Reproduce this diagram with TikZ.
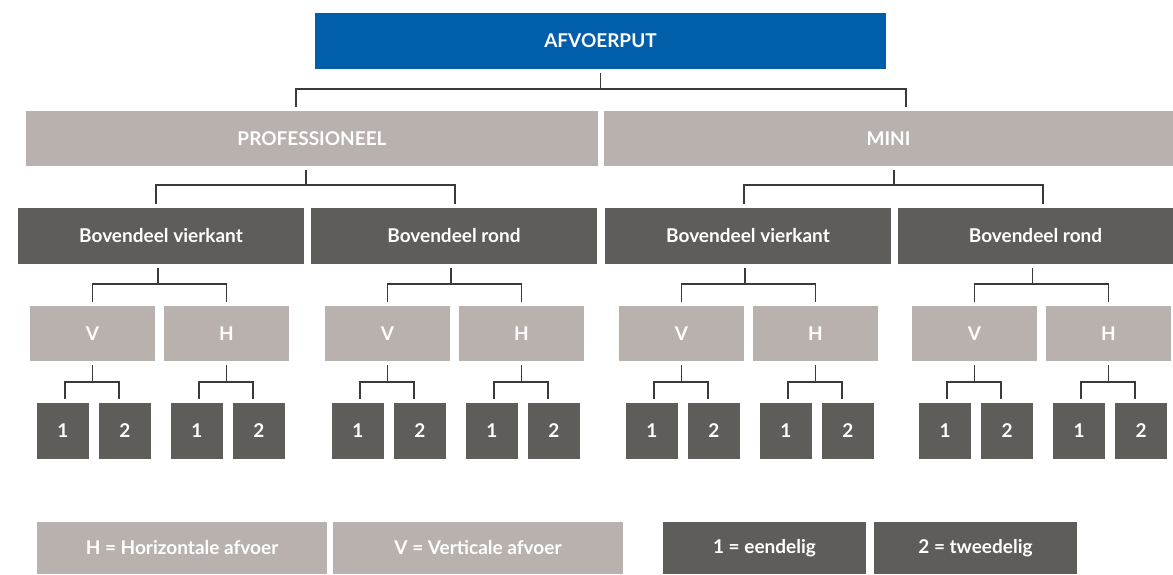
\documentclass[tikz,border=0pt]{standalone}
\usepackage{fontspec}
\setmainfont{Lato}
\definecolor{topblue}{HTML}{005EAA}
\definecolor{lightbox}{HTML}{B9B1AE}
\definecolor{darkbox}{HTML}{5F5D59}
\definecolor{linecol}{HTML}{3A3A3A}
\begin{document}
\begin{tikzpicture}[x=1pt,y=-1pt,
  box/.style={rectangle,inner sep=0pt,text=white,font=\fontsize{19}{21}\selectfont\bfseries},
  bluebox/.style={box,fill=topblue},
  lbox/.style={box,fill=lightbox},
  dbox/.style={box,fill=darkbox},
  conn/.style={draw=linecol,line width=1.4pt}]
\useasboundingbox (0,0) rectangle (1173,574);
% top
\node[bluebox,minimum width=571pt,minimum height=56pt] (top) at (600.5,41) {AFVOERPUT};
% level 1
\node[lbox,minimum width=572pt,minimum height=55pt] (prof) at (312,138.5) {PROFESSIONEEL};
\node[lbox,minimum width=569pt,minimum height=55pt] (mini) at (888.5,138.5) {MINI};
% level 2
\node[dbox,minimum width=286pt,minimum height=56pt] (pv) at (161,236) {Bovendeel vierkant};
\node[dbox,minimum width=286pt,minimum height=56pt] (pr) at (454,236) {Bovendeel rond};
\node[dbox,minimum width=286pt,minimum height=56pt] (mv) at (748,236) {Bovendeel vierkant};
\node[dbox,minimum width=275pt,minimum height=56pt] (mr) at (1035.5,236) {Bovendeel rond};
% level 3 and 4
\foreach \g/\L in {pv/30, pr/325, mv/619, mr/912}{
  \node[lbox,minimum width=125pt,minimum height=55pt] (\g V) at (\L+62.5,333.5) {V};
  \node[lbox,minimum width=125pt,minimum height=55pt] (\g H) at (\L+196.5,333.5) {H};
  \foreach \s/\o in {V/0, H/134}{
    \node[dbox,minimum width=52pt,minimum height=56pt] (\g\s1) at (\L+\o+33,431) {1};
    \node[dbox,minimum width=52pt,minimum height=56pt] (\g\s2) at (\L+\o+95,431) {2};
  }
}
% legend
\node[lbox,minimum width=290pt,minimum height=52pt] (legH) at (182,548) {H = Horizontale afvoer};
\node[lbox,minimum width=290pt,minimum height=52pt] (legV) at (478,548) {V = Verticale afvoer};
\node[dbox,minimum width=203pt,minimum height=52pt] (leg1) at (764.5,548) {1 = eendelig};
\node[dbox,minimum width=203pt,minimum height=52pt] (leg2) at (975.5,548) {2 = tweedelig};
% connectors
\coordinate (j0) at (top.south |- 0,89);
\draw[conn] ([yshift=-4pt]top.south) -- (j0);
\draw[conn] ([xshift=-16pt,yshift=4pt]prof.north) |- (j0) -| ([xshift=17.5pt,yshift=4pt]mini.north);
\foreach \P/\A/\B/\offP/\offA/\offB in {prof/pv/pr/-6/-5/1, mini/mv/mr/5.5/-4/7.5}{
  \coordinate (j\P) at ([xshift=\offP pt]\P.south |- 0,185);
  \draw[conn] ([xshift=\offP pt,yshift=-4pt]\P.south) -- (j\P);
  \draw[conn] ([xshift=\offA pt,yshift=4pt]\A.north) |- (j\P) -| ([xshift=\offB pt,yshift=4pt]\B.north);
}
\foreach \g in {pv,pr,mv,mr}{
  \coordinate (j\g) at ([xshift=-3pt]\g.south |- 0,284);
  \draw[conn] ([xshift=-3pt,yshift=-4pt]\g.south) -- (j\g);
  \draw[conn] ([yshift=4pt]\g V.north) |- (j\g) -| ([yshift=4pt]\g H.north);
  \foreach \s in {V,H}{
    \coordinate (j\g\s) at (\g\s.south |- 0,382);
    \draw[conn] ([yshift=-4pt]\g\s.south) -- (j\g\s);
    \draw[conn] ([xshift=2pt,yshift=4pt]\g\s1.north) |- (j\g\s) -| ([xshift=-6pt,yshift=4pt]\g\s2.north);
  }
}
\end{tikzpicture}
\end{document}
